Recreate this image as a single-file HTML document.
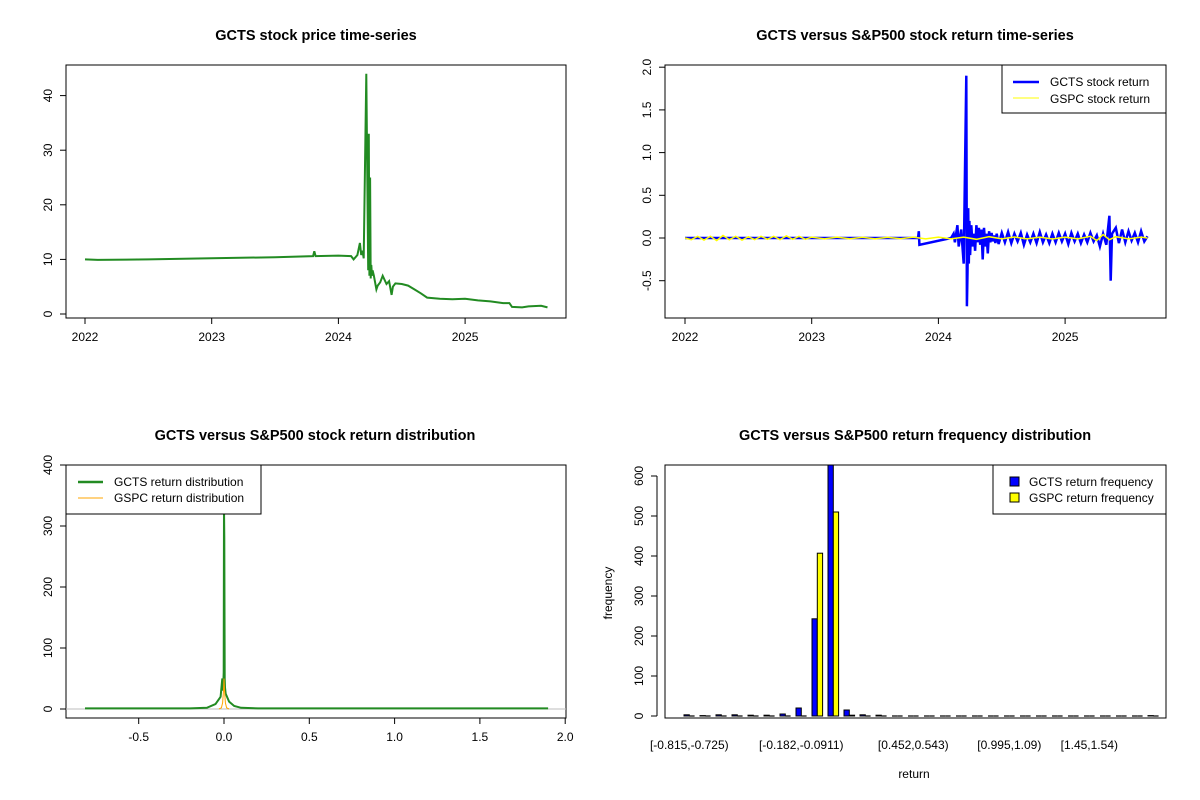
<!DOCTYPE html>
<html><head><meta charset="utf-8"><style>
body{margin:0;background:#fff}
svg{display:block;font-family:"Liberation Sans",Arial,sans-serif}
</style></head><body>
<svg id="c" width="1200" height="800" viewBox="0 0 1200 800"></svg>
<script>
// ---- Panel 1: price
const priceT=[0,0.1,0.5,1.0,1.5,1.8,1.81,1.82,2.0,2.1,2.12,2.15,2.17,2.18,2.19,2.2,2.22,2.235,2.24,2.245,2.25,2.255,2.26,2.265,2.27,2.28,2.3,2.31,2.33,2.35,2.38,2.4,2.42,2.43,2.45,2.5,2.55,2.6,2.65,2.7,2.8,2.9,3.0,3.1,3.2,3.3,3.35,3.37,3.45,3.5,3.6,3.65];
const priceV=[10,9.9,10.0,10.2,10.4,10.6,11.5,10.6,10.7,10.6,10.0,10.8,13,10.8,11.6,10.2,44,8,33,7,25,6.5,9,7,8,7,4.5,5.2,5.8,7,5.5,6,3.5,5,5.6,5.5,5.2,4.5,3.8,3,2.8,2.7,2.8,2.5,2.3,2.0,2.0,1.3,1.2,1.4,1.5,1.2];
const priceTicks=[0,10,20,30,40];
const yearLabels=["2022","2023","2024","2025"];
// ---- Panel 2: returns
const retT=[0,0.5,1.0,1.5,1.84,1.845,1.85,2.1,2.12,2.13,2.15,2.16,2.18,2.2,2.22,2.225,2.23,2.235,2.24,2.245,2.25,2.26,2.27,2.28,2.29,2.3,2.31,2.32,2.33,2.34,2.35,2.36,2.37,2.38,2.39,2.4,2.41,2.42,2.43,2.44,2.45,2.46,2.475,2.5,2.525,2.55,2.575,2.6,2.625,2.65,2.675,2.7,2.725,2.75,2.775,2.8,2.825,2.85,2.875,2.9,2.925,2.95,2.975,3.0,3.025,3.05,3.075,3.1,3.125,3.15,3.175,3.2,3.225,3.25,3.275,3.3,3.325,3.35,3.36,3.37,3.4,3.425,3.45,3.475,3.5,3.525,3.55,3.575,3.6,3.625,3.65];
const retV=[0,0,0,0,0,0.08,-0.08,0,0.05,-0.05,0.15,-0.1,0.1,-0.3,1.9,-0.8,-0.4,0.35,-0.3,0.2,-0.2,0.15,-0.1,0.05,-0.15,0.15,-0.05,0.12,-0.08,0.1,-0.25,0.12,-0.1,0.05,-0.18,0.08,-0.05,0.06,-0.04,0.03,-0.06,0.05,-0.07,0.06,-0.05,0.07,-0.06,0.05,-0.04,0.06,-0.08,0.04,-0.05,0.05,-0.06,0.07,-0.05,0.04,-0.06,0.05,-0.05,0.06,-0.04,0.05,-0.07,0.06,-0.04,0.05,-0.06,0.04,-0.05,0.06,-0.04,0.03,-0.1,0.05,-0.08,0.26,-0.5,0.05,0.12,-0.06,0.1,-0.05,0.08,-0.03,0.06,-0.05,0.08,-0.04,0.02];
const spT=[0,0.05,0.1,0.15,0.2,0.25,0.3,0.35,0.4,0.45,0.5,0.55,0.6,0.65,0.7,0.75,0.8,0.85,0.9,0.95,1.0,1.1,1.2,1.3,1.4,1.5,1.6,1.7,1.8,1.9,2.0,2.1,2.2,2.3,2.4,2.5,2.6,2.7,2.8,2.9,3.0,3.1,3.2,3.25,3.3,3.35,3.4,3.5,3.6,3.65];
const spV=[0,-0.02,0.02,-0.025,0.02,-0.03,0.03,-0.02,0.02,-0.025,0.015,-0.02,0.02,-0.015,0.02,-0.02,0.025,-0.015,0.02,-0.015,0.01,-0.01,0.01,-0.01,0.008,-0.01,0.008,-0.008,0.01,-0.01,0.01,-0.01,0.01,-0.015,0.015,-0.01,0.012,-0.01,0.01,-0.012,0.01,-0.01,0.02,-0.03,0.04,-0.02,0.015,-0.01,0.01,0];
const retTicks=[-0.5,0,0.5,1,1.5,2];
// ---- Panel 3: density
const dX=[-0.815,-0.3,-0.2,-0.1,-0.05,-0.02,-0.01,-0.005,-0.002,0,0.002,0.004,0.006,0.01,0.03,0.06,0.1,0.2,0.4,1.9];
const dY=[1,1,1,2,8,20,50,30,60,330,280,50,35,25,12,5,2,1,1,1];
const sX=[-0.03,-0.015,-0.008,-0.003,0,0.003,0.008,0.015,0.03];
const sY=[0,2,10,30,50,30,10,2,0];
const densXTicks=[-0.5,0,0.5,1,1.5,2];
const densYTicks=[0,100,200,300,400];
// ---- Panel 4: histogram
const gctsFreq=[3,1,3,3,2,2,5,20,243,700,15,3,2,0,0,0,0,0,0,0,0,0,0,0,0,0,0,0,0,1];
const gspcFreq=[0,0,0,0,0,0,0,0,407,510,2,0,0,0,0,0,0,0,0,0,0,0,0,0,0,0,0,0,0,0];
const binLabels=["[-0.815,-0.725)","[-0.182,-0.0911)","[0.452,0.543)","[0.995,1.09)","[1.45,1.54)"];
const binLabelIdx=[0,7,14,20,25];
const histTicks=[0,100,200,300,400,500,600];

const NS="http://www.w3.org/2000/svg";
const svg=document.getElementById('c');
function mk(t,a,p){const e=document.createElementNS(NS,t);for(const k in a)e.setAttribute(k,a[k]);(p||svg).appendChild(e);return e;}
function txt(x,y,s,a,p){const e=mk('text',Object.assign({x:x,y:y,'font-size':12,fill:'#000','text-anchor':'middle'},a||{}),p);e.textContent=s;return e;}
function frame(x0,y0,x1,y1,name){const r=mk('rect',{x:x0,y:y0,width:x1-x0,height:y1-y0,fill:'none',stroke:'#000','stroke-width':1});

}
function title(x,y,s,name){const e=txt(x,y,s,{'font-size':14.5,'font-weight':'bold'});

}
function yTick(x,y,s){mk('line',{x1:x-6,y1:y,x2:x,y2:y,stroke:'#000'});
const e=txt(x-14,y,s,{transform:`rotate(-90 ${x-14} ${y})`});

}
function xTick(x,y,s){mk('line',{x1:x,y1:y,x2:x,y2:y+6,stroke:'#000'});
const e=txt(x,y+23,s);

}
function poly(xs,ys,fx,fy,col,w,name){const pts=xs.map((v,i)=>fx(v).toFixed(1)+','+fy(ys[i]).toFixed(1)).join(' ');
const e=mk('polyline',{points:pts,fill:'none',stroke:col,'stroke-width':w,'stroke-linejoin':'miter'});

}

// Panel 1
const tx1=t=>85+t*126.7, py=v=>314-v*5.46;
title(316,40,"GCTS stock price time-series","price-title");
frame(66,65,566,318,"price-plot-area");
priceTicks.forEach(v=>yTick(66,py(v),String(v)));
yearLabels.forEach((s,i)=>xTick(tx1(i),318,s));
poly(priceT,priceV,tx1,py,'#228B22',2,'gcts-price-line');

// Panel 2
const tx2=t=>685+t*126.7, ry=v=>238-v*85.4;
title(915,40,"GCTS versus S&P500 stock return time-series","returns-title");
frame(665,65,1166,318,"returns-plot-area");
retTicks.forEach(v=>yTick(665,ry(v),v.toFixed(1)));
yearLabels.forEach((s,i)=>xTick(tx2(i),318,s));
poly(retT,retV,tx2,ry,'#0000FF',2.5,'gcts-return-line');
poly(spT,spV,tx2,ry,'#FFFF00',1.5,'gspc-return-line');
{const g=mk('g',{});
mk('rect',{x:1002,y:65,width:164,height:48,fill:'#fff',stroke:'#000'},g);
mk('line',{x1:1013,y1:82,x2:1039,y2:82,stroke:'#0000FF','stroke-width':2.5},g);
mk('line',{x1:1013,y1:98,x2:1039,y2:98,stroke:'#FFFF00','stroke-width':1},g);
txt(1050,86,"GCTS stock return",{'text-anchor':'start'},g);txt(1050,103,"GSPC stock return",{'text-anchor':'start'},g);}

// Panel 3
const dx=v=>224+v*170.6, dy=v=>709-v*0.61;
title(315,440,"GCTS versus S&P500 stock return distribution","density-title");
frame(66,465,566,718,"density-plot-area");
densYTicks.forEach(v=>yTick(66,dy(v),String(v)));
densXTicks.forEach(v=>xTick(dx(v),718,v.toFixed(1)));
mk('line',{x1:66,y1:dy(0),x2:566,y2:dy(0),stroke:'#bebebe'});
poly(dX,dY,dx,dy,'#228B22',2,'gcts-density-line');
poly(sX,sY,dx,dy,'#FFA500',1,'gspc-density-line');
{const g=mk('g',{});
mk('rect',{x:66,y:465,width:195,height:49,fill:'#fff',stroke:'#000'},g);
mk('line',{x1:78,y1:482,x2:103,y2:482,stroke:'#228B22','stroke-width':2.5},g);
mk('line',{x1:78,y1:498,x2:103,y2:498,stroke:'#FFA500','stroke-width':1},g);
txt(114,486,"GCTS return distribution",{'text-anchor':'start'},g);txt(114,502,"GSPC return distribution",{'text-anchor':'start'},g);}

// Panel 4
const hy=v=>716-v*0.4, bx=i=>684+i*16;
title(915,440,"GCTS versus S&P500 return frequency distribution","histogram-title");
const clip=mk('clipPath',{id:'hc'});mk('rect',{x:665,y:465,width:501,height:253},clip);
const hg=mk('g',{'clip-path':'url(#hc)'});
function bar(x,v,col,name){
  if(v>0){const r=mk('rect',{x:x,y:hy(v),width:5.3,height:v*0.4,fill:col,stroke:'#000','stroke-width':1},hg);
  
  }
  else{const l=mk('line',{x1:x,y1:hy(0),x2:x+5.3,y2:hy(0),stroke:'#000','stroke-width':1.2},hg);
  
  }
}
gctsFreq.forEach((v,i)=>bar(bx(i),v,'#0000FF','bar-gcts'));
gspcFreq.forEach((v,i)=>bar(bx(i)+5.3,v,'#FFFF00','bar-gspc'));
frame(665,465,1166,718,"histogram-plot-area");
histTicks.forEach(v=>yTick(657,hy(v),String(v)));
mk('line',{x1:657,y1:hy(0),x2:657,y2:hy(600),stroke:'#000'});
binLabels.forEach((s,i)=>{const e=txt(bx(binLabelIdx[i])+5.3,749,s);

});
{const e=txt(612,593,"frequency",{transform:'rotate(-90 612 593)'});}
{const e=txt(914,778,"return");}
{const g=mk('g',{});
mk('rect',{x:993,y:465,width:173,height:49,fill:'#fff',stroke:'#000'},g);
mk('rect',{x:1010,y:477,width:9,height:9,fill:'#0000FF',stroke:'#000'},g);
mk('rect',{x:1010,y:493,width:9,height:9,fill:'#FFFF00',stroke:'#000'},g);
txt(1029,486,"GCTS return frequency",{'text-anchor':'start'},g);txt(1029,502,"GSPC return frequency",{'text-anchor':'start'},g);}
</script>
</body></html>
